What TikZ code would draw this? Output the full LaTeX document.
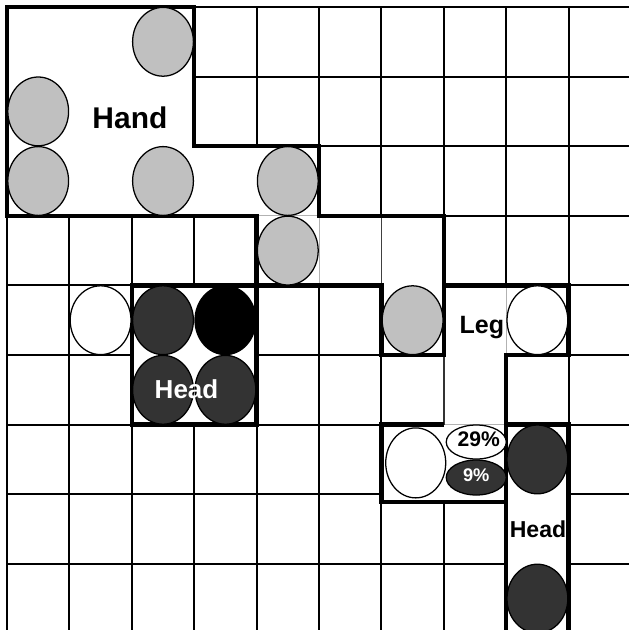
\documentclass[tikz,border=0pt]{standalone}
\usepackage{fontspec}
\setmainfont{Liberation Sans}
\usepackage{xcolor}
\usetikzlibrary{shapes.geometric}
\definecolor{lightball}{HTML}{C0C0C0}
\definecolor{darkball}{HTML}{333333}

\begin{document}
\begin{tikzpicture}[x=1.56cm, y=-1.74cm,
    gridline/.style={line width=1.35pt, black},
    innerline/.style={line width=0.6pt, gray!60},
    thickedge/.style={line width=3.2pt, black, line join=miter},
    ball/.style={ellipse, draw, line width=0.9pt, minimum width=1.52cm,
                 minimum height=1.72cm, inner sep=0pt},
    txt/.style={anchor=base, inner sep=0pt}]
    \useasboundingbox (-0.1122,-0.1006) rectangle (9.952,8.951);

    % Grid
    \foreach \c in {0,...,9}
        \draw[gridline] (\c,0) -- (\c,9);
    \foreach \r in {0,...,8}
        \draw[gridline] (0,\r) -- (10,\r);

    % Regions
    \fill[white] (0,0) -- (3,0) -- (3,2) -- (5,2) -- (5,3) -- (7,3) -- (7,5)
        -- (6,5) -- (6,4) -- (4,4) -- (4,3) -- (0,3) -- cycle;
    \fill[white] (2,4) rectangle (4,6);
    \fill[white] (7,4) -- (9,4) -- (9,5) -- (8,5) -- (8,6) -- (7,6) -- cycle;
    \fill[white] (6,6) rectangle (8,7.11);
    \fill[white] (8,6) rectangle (9,9);

    % Inner lines
    \draw[innerline] (4,3) -- (5,3) -- (5,4);
    \draw[innerline, gray!50!black] (6,3) -- (6,4);
    \draw[innerline] (8,4) -- (8,5);
    \draw[innerline] (7,6) -- (8,6);
    \draw[line width=1pt, gray!40!black] (7,5) -- (7,6);

    % Thick borders
    \draw[thickedge] (0,0) -- (3,0) -- (3,2) -- (5,2) -- (5,3) -- (7,3) -- (7,5)
        -- (6,5) -- (6,4) -- (4,4) -- (4,3) -- (0,3) -- cycle;
    \draw[thickedge] (2,4) rectangle (4,6);
    \draw[thickedge] (7,4) -- (9,4) -- (9,5) -- (8,5) -- (8,9);
    \draw[thickedge] (8,6) -- (9,6) -- (9,9);
    \draw[thickedge] (7,6) -- (6,6) -- (6,7.11) -- (8,7.11);

    % Hand balls
    \node[ball, fill=lightball] (handA) at (2.5,0.5) {};
    \node[ball, fill=lightball] (handB) at (0.5,1.5) {};
    \node[ball, fill=lightball] (handC) at (0.5,2.5) {};
    \node[ball, fill=lightball] (handD) at (2.5,2.5) {};
    \node[ball, fill=lightball] (handE) at (4.5,2.5) {};
    \node[ball, fill=lightball] (handF) at (4.5,3.5) {};
    \node[ball, fill=lightball] (handG) at (6.5,4.5) {};

    % Head balls (left)
    \node[ball, fill=white] (headW) at (1.5,4.5) {};
    \node[ball, fill=darkball] (headA) at (2.5,4.5) {};
    \node[ball, fill=black] (headB) at (3.5,4.5) {};
    \node[ball, fill=darkball] (headC) at (2.5,5.5) {};
    \node[ball, fill=darkball] (headD) at (3.5,5.5) {};

    % Leg and right head balls
    \node[ball, fill=white] (legW) at (8.5,4.5) {};
    \node[ball, fill=white, minimum width=1.5cm, minimum height=1.75cm] (legB) at (6.55,6.55) {};
    \node[ball, fill=white, minimum width=1.5cm, minimum height=0.85cm] (pctHi) at (7.52,6.25) {};
    \node[ball, fill=darkball, minimum width=1.5cm, minimum height=0.875cm] (pctLo) at (7.52,6.76) {};
    \node[ball, fill=darkball] (tailA) at (8.5,6.5) {};
    \node[ball, fill=darkball] (tailB) at (8.5,8.5) {};

    % Labels
    \node[txt, font=\bfseries\fontsize{21.3pt}{24pt}\selectfont] (handT) at (1.97,1.739) {Hand};
    \node[txt, text=white, font=\bfseries\fontsize{18.5pt}{22pt}\selectfont] (headT) at (2.877,5.632) {Head};
    \node[txt, font=\bfseries\fontsize{17.8pt}{21pt}\selectfont] (legT) at (7.61,4.684) {Leg};
    \node[txt, font=\bfseries\fontsize{15pt}{18pt}\selectfont] (pctHiT) at (7.56,6.31) {29\%};
    \node[txt, text=white, font=\bfseries\fontsize{13pt}{16pt}\selectfont] (pctLoT) at (7.52,6.82) {9\%};
    \node[txt, font=\bfseries\fontsize{16.4pt}{19pt}\selectfont] (tailT) at (8.51,7.615) {Head};
\end{tikzpicture}
\end{document}
